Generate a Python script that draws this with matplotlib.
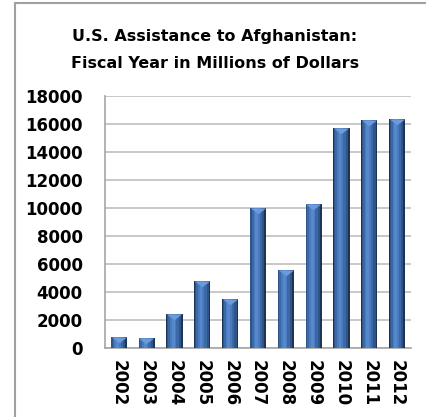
import numpy as np
import matplotlib.pyplot as plt
from matplotlib.patches import Rectangle
from matplotlib.path import Path

# data (millions of dollars)
years = ['2002', '2003', '2004', '2005', '2006', '2007', '2008', '2009', '2010', '2011', '2012']
assistance = [780, 700, 2450, 4760, 3500, 9970, 5600, 10300, 15700, 16300, 16350]
y_ticks = [0, 2000, 4000, 6000, 8000, 10000, 12000, 14000, 16000, 18000]

fig = plt.figure(figsize=(4.27, 4.17), dpi=100)
ax = fig.add_axes([105 / 427, 1 - 348 / 417, 306 / 427, 252 / 417])

x = np.arange(len(years))

# fake the bevelled Excel bar: dark outer bar with lighter stripes inside,
# light side a bit left of centre
layers = [(0.58, 0.0, '#1E3454'), (0.50, -0.02, '#2F5489'), (0.38, -0.04, '#3D68A6'),
          (0.22, -0.05, '#4A7BBF'), (0.10, -0.05, '#5589CB')]
for w, dx, c in layers:
    ax.bar(x + dx, assistance, width=w, color=c, linewidth=0, zorder=3)

# light triangle at the top of each bar
tri = Path([(-1, 0), (1, 0), (0, -0.75), (-1, 0)], [Path.MOVETO, Path.LINETO, Path.LINETO, Path.CLOSEPOLY])
ax.scatter(x - 0.01, assistance, marker=tri, s=120, color='#6B9BDA', linewidths=0, zorder=4)

ax.set_xlim(-0.5, len(years) - 0.5)
ax.set_ylim(0, 18000)
ax.set_yticks(y_ticks)
ax.set_yticklabels([str(t) for t in y_ticks], fontsize=12, fontweight='bold')
ax.set_xticks(x)
ax.set_xticklabels(years, rotation=-90, fontsize=12, fontweight='bold')
ax.tick_params(axis='y', length=0, pad=16)
ax.tick_params(axis='x', length=0, pad=9)

ax.grid(axis='y', color='#BFBFBF', linewidth=1.2, zorder=0)
for s in ['top', 'right']:
    ax.spines[s].set_visible(False)
ax.spines['left'].set_color('#A6A6A6')
ax.spines['bottom'].set_color('#A6A6A6')
ax.spines['left'].set_linewidth(1.2)
ax.spines['bottom'].set_linewidth(1.2)

fig.text(215 / 427, 1 - 36 / 417, 'U.S. Assistance to Afghanistan:', ha='center', va='center',
         fontsize=11.5, fontweight='bold')
fig.text(215 / 427, 1 - 63 / 417, 'Fiscal Year in Millions of Dollars', ha='center', va='center',
         fontsize=11.5, fontweight='bold')

# chart-area frame, cropped at the right and bottom like the reference
fig.patches.append(Rectangle((15 / 427, -0.05), 1.1, 1.05 - 3 / 417, transform=fig.transFigure,
                             fill=False, edgecolor='#A0A0A0', linewidth=1.5))

fig.savefig('out.png', dpi=100)
